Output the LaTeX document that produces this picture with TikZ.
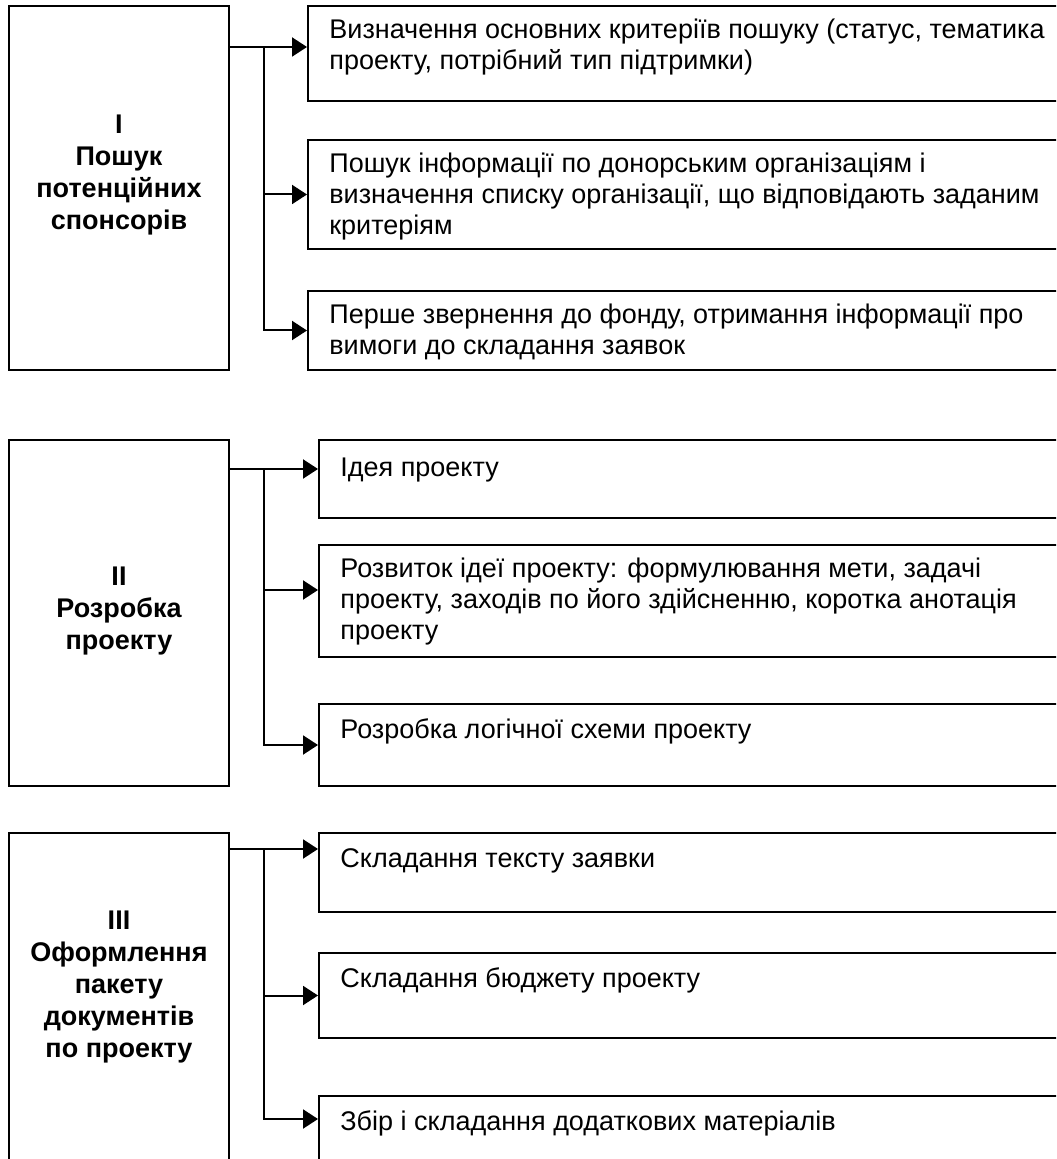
\documentclass[tikz,border=0pt]{standalone}
\usepackage{fontspec}
\setmainfont{Liberation Sans}
\usetikzlibrary{positioning, arrows.meta}

\begin{document}
\begin{tikzpicture}[
  x=0.5pt, y=-0.5pt,
  font=\fontsize{13.5}{15.5}\selectfont,
  stage/.style={rectangle, draw, line width=1pt, anchor=north west, minimum width=110pt},
  task/.style={rectangle, draw, line width=1pt, anchor=north west},
  tasktext/.style={anchor=north west, xshift=11pt, yshift=-6.65pt, align=left, inner sep=0pt,
    execute at begin node=\strut},
  stagetext/.style={anchor=north, align=center, inner sep=0pt,
    font=\fontsize{13.5}{16}\selectfont\bfseries, execute at begin node=\strut},
  arr/.style={-{Triangle[length=7.5pt, width=9.5pt]}, line width=1pt}
]
\useasboundingbox (0,0) rectangle (1056,1159);
\clip (0,0) rectangle (1056,1159);

% stage I
\node[stage, minimum height=182pt,
  label={[stagetext, yshift=-54.8pt]north:I\\Пошук\\потенційних\\спонсорів}] (sI) at (8,5) {};
\node[task, minimum width=384pt, minimum height=47.5pt,
  label={[tasktext]north west:Визначення основних критеріїв пошуку (статус, тематика\\проекту, потрібний тип підтримки)}] (rI1) at (307,5) {};
\node[task, minimum width=384pt, minimum height=54.5pt,
  label={[tasktext]north west:Пошук інформації по донорським організаціям і\\визначення списку організації, що відповідають заданим\\критеріям}] (rI2) at (307,139) {};
\node[task, minimum width=384pt, minimum height=39.5pt,
  label={[tasktext]north west:Перше звернення до фонду, отримання інформації про\\вимоги до складання заявок}] (rI3) at (307,290) {};

% stage II
\node[stage, minimum height=173pt,
  label={[stagetext, yshift=-64pt]north:II\\Розробка\\проекту}] (sII) at (8,439) {};
\node[task, minimum width=378.5pt, minimum height=39pt,
  label={[tasktext, yshift=-1pt]north west:Ідея проекту}] (rII1) at (318,439) {};
\node[task, minimum width=378.5pt, minimum height=56pt,
  label={[tasktext]north west:Розвиток ідеї проекту: формулювання мети, задачі\\проекту, заходів по його здійсненню, коротка анотація\\проекту}] (rII2) at (318,544) {};
\node[task, minimum width=378.5pt, minimum height=41pt,
  label={[tasktext]north west:Розробка логічної схеми проекту}] (rII3) at (318,703) {};

% stage III
\node[stage, minimum height=171.5pt,
  label={[stagetext, yshift=-39.3pt]north:III\\Оформлення\\пакету\\документів\\по проекту}] (sIII) at (8,832) {};
\node[task, minimum width=378.5pt, minimum height=39.5pt,
  label={[tasktext]north west:Складання тексту заявки}] (rIII1) at (318,832) {};
\node[task, minimum width=378.5pt, minimum height=42.5pt,
  label={[tasktext]north west:Складання бюджету проекту}] (rIII2) at (318,952) {};
\node[task, minimum width=378.5pt, minimum height=40pt,
  label={[tasktext]north west:Збір і складання додаткових матеріалів}] (rIII3) at (318,1095) {};

% connectors
\coordinate (bI) at (264,47);
\draw[arr] (sI.east |- bI) -- (rI1.west |- bI);
\draw[arr] (bI |- rI2.west) -- (rI2.west);
\draw[arr] (bI) |- (rI3.west);

\coordinate (bII) at (264,469);
\coordinate (tII2) at ([yshift=5.5pt]rII2.west);
\draw[arr] (sII.east |- bII) -- (rII1.west |- bII);
\draw[arr] (bII |- tII2) -- (tII2);
\draw[arr] (bII) |- (rII3.west);

\coordinate (bIII) at (264,849);
\coordinate (tIII3) at ([yshift=-12pt]rIII3.north west);
\draw[arr] (sIII.east |- bIII) -- (rIII1.west |- bIII);
\draw[arr] (bIII |- rIII2.west) -- (rIII2.west);
\draw[arr] (bIII) |- (tIII3);
\end{tikzpicture}
\end{document}
